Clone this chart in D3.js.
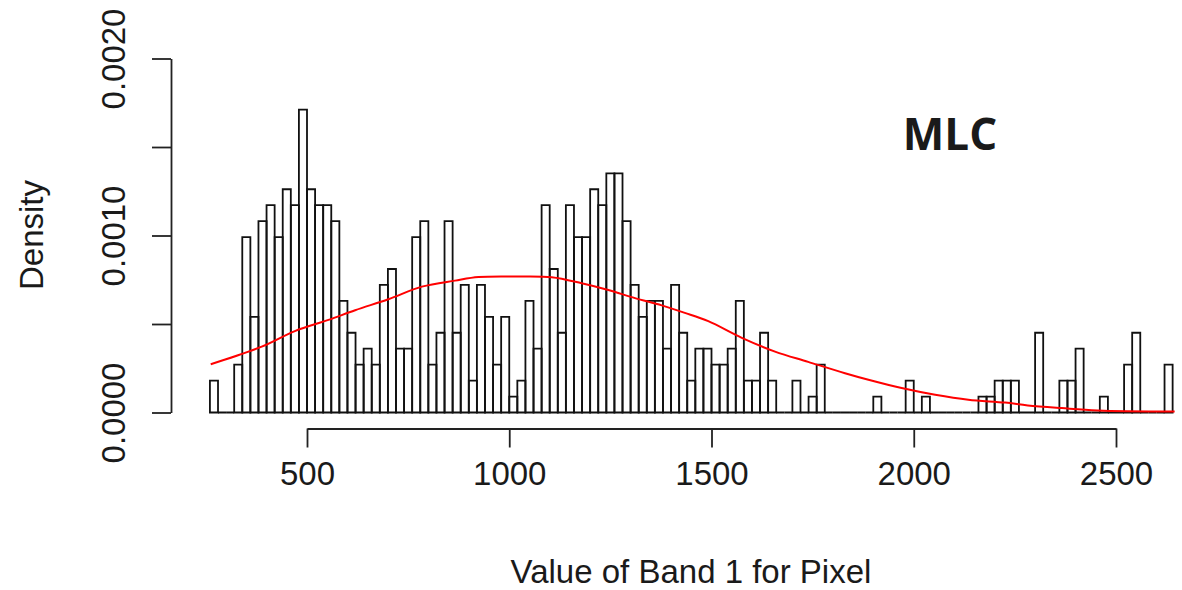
<!DOCTYPE html>
<html>
<head>
<meta charset="utf-8">
<script src="https://cdnjs.cloudflare.com/ajax/libs/d3/7.8.5/d3.min.js"></script>
<style>
  body { margin: 0; background: #fff; }
  text { font-family: "Liberation Sans", Arial, sans-serif; fill: #1a1a1a; }
</style>
</head>
<body>
<div id="chart"></div>
<script>
// histogram bins (left edges), width 20
var binStart = 260;
var binWidth = 20;
var binCounts = [
  2, 0, 0, 3, 11, 6, 12, 13, 11, 14, 13, 19, 14, 13, 13, 12, 7, 5,       // 260 - 600
  3, 4, 3, 8, 9, 4, 4, 11, 12, 3, 5, 12, 5, 8, 2, 8, 6, 3, 6,          // 620 - 980
  1, 2, 7, 4, 13, 9, 5, 13, 11, 11, 14, 13, 15, 15, 12, 8, 6, 7, 7, 4, // 1000 - 1380
  8, 5, 2, 4, 4, 3, 3, 4, 7, 2, 2, 5, 2, 0, 0, 2, 0, 1, 3,             // 1400 - 1760
  0, 0, 0, 0, 0, 0, 1, 0, 0, 0, 2, 0, 1, 0, 0, 0, 0, 0, 0,             // 1780 - 2140
  1, 1, 2, 2, 2, 0, 0, 5, 0, 0, 2, 2, 4, 0, 0, 1, 0, 0, 3, 5,          // 2160 - 2540
  0, 0, 0, 3                                                           // 2560 - 2620
];

// red normal curve
var curveX = [262, 388, 470, 553, 619, 701, 784, 866, 924, 1014, 1105, 1179, 1245,
  1311, 1377, 1434, 1492, 1575, 1657, 1739, 1830, 1888, 1970, 2053, 2135, 2226, 2282,
  2366, 2455, 2645];
var curveY = [0.000273, 0.000372, 0.000460, 0.000523, 0.000578, 0.000640,
  0.000711, 0.000745, 0.000765, 0.000768, 0.000764, 0.000730, 0.000692, 0.000646,
  0.000605, 0.000563, 0.000516, 0.000422, 0.000344, 0.000286, 0.000222, 0.000185,
  0.000138, 0.000100, 0.000072, 0.000056, 0.000040, 0.000025, 0.000012, 0.000005];

var xTicks = [500, 1000, 1500, 2000, 2500];
var yTicks = [0, 0.0005, 0.0010, 0.0015, 0.0020];
var yTickLabels = ["0.0000", "", "0.0010", "", "0.0020"];

var width = 1182;
var height = 590;

var svg = d3.select("div#chart")
  .append("svg")
  .attr("width", width)
  .attr("height", height);

var x = d3.scaleLinear()
  .domain([500, 2500])
  .range([307, 1116]);

var y = d3.scaleLinear()
  .domain([0, 0.002])
  .range([412.5, 58.5]);

var total = d3.sum(binCounts);
var bins = binCounts.map(function(c, i) {
  return { x0: binStart + i * binWidth, x1: binStart + (i + 1) * binWidth, density: c / (total * binWidth) };
});

// bars as paths so empty bins still draw the base line
svg.append("g")
  .selectAll("path")
  .data(bins)
  .enter()
  .append("path")
  .attr("fill", "none")
  .attr("stroke", "#111")
  .attr("stroke-width", 1.8)
  .attr("d", function(d) {
    return "M" + x(d.x0) + "," + y(0) + "V" + y(d.density) + "H" + x(d.x1) + "V" + y(0) + "Z";
  });

var curveData = curveX.map(function(v, i) { return [v, curveY[i]]; });

svg.append("path")
  .datum(curveData)
  .attr("fill", "none")
  .attr("stroke", "#ff0000")
  .attr("stroke-width", 2)
  .attr("d", d3.line()
    .x(function(d) { return x(d[0]); })
    .y(function(d) { return y(d[1]); })
    .curve(d3.curveCatmullRom)
  );

// x axis, R style (line from first to last tick)
var xAxis = d3.axisBottom(x).tickValues(xTicks).tickSize(19).tickPadding(14).tickSizeOuter(0)
  .tickFormat(d3.format("d"));

var gx = svg.append("g")
  .attr("transform", "translate(0,428.5)")
  .call(xAxis);
gx.select(".domain").attr("stroke", "#222").attr("stroke-width", 1.8);
gx.selectAll(".tick line").attr("stroke", "#222").attr("stroke-width", 1.8);
gx.selectAll(".tick text")
  .style("font-size", "33px")
  .style("font-family", "Liberation Sans, Arial, sans-serif")
  .attr("fill", "#1a1a1a");

// y axis
var yAxis = d3.axisLeft(y).tickValues(yTicks).tickSize(19).tickSizeOuter(0)
  .tickFormat(function(d, i) { return yTickLabels[i]; });

var gy = svg.append("g")
  .attr("transform", "translate(171,0)")
  .call(yAxis);
gy.select(".domain").attr("stroke", "#222").attr("stroke-width", 1.8);
gy.selectAll(".tick line").attr("stroke", "#222").attr("stroke-width", 1.8);
gy.selectAll(".tick text")
  .attr("x", null)
  .attr("dy", null)
  .attr("text-anchor", "middle")
  .attr("transform", "translate(-46,0) rotate(-90)")
  .style("font-size", "33px")
  .style("font-family", "Liberation Sans, Arial, sans-serif")
  .attr("fill", "#1a1a1a");

// axis titles
svg.append("text")
  .attr("x", 691)
  .attr("y", 583)
  .attr("text-anchor", "middle")
  .style("font-size", "33px")
  .text("Value of Band 1 for Pixel");

svg.append("text")
  .attr("transform", "translate(43,235) rotate(-90)")
  .attr("text-anchor", "middle")
  .style("font-size", "33px")
  .text("Density");

svg.append("text")
  .attr("x", 950)
  .attr("y", 150)
  .attr("text-anchor", "middle")
  .style("font-family", "'Open Sans', sans-serif")
  .style("font-weight", "700")
  .style("font-size", "44px")
  .attr("fill", "#000")
  .text("MLC");
</script>
</body>
</html>
